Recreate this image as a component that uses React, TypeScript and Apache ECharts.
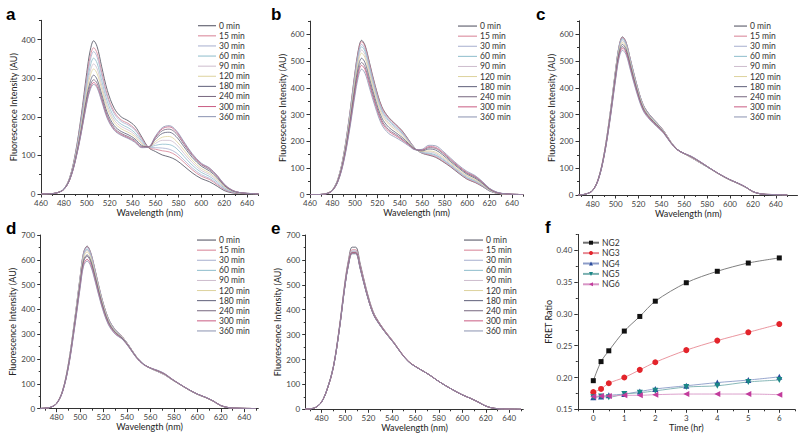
import React, { useEffect, useRef } from 'react';
import * as echarts from 'echarts';

// ---------------- DATA ----------------
const wavelengths = [460, 470, 475, 480, 485, 490, 495, 500, 503, 506, 509, 513, 518, 524, 530, 536, 542, 548, 554, 560, 566, 572, 578, 585, 592, 600, 607, 614, 620, 627, 635, 645, 650];
const timeLabels = ['0 min', '15 min', '30 min', '60 min', '90 min', '120 min', '180 min', '240 min', '300 min', '360 min'];

// panel a (NG2)
const spectraA = [
  [0, 1, 4, 13, 42, 105, 200, 315, 372, 397, 382, 330, 268, 222, 200, 190, 176, 148, 120, 110, 101, 96, 88, 72, 55, 40, 32, 20, 9, 3, 1, 0, 0],
  [0, 1, 4, 13, 41, 102, 193, 302, 356, 379, 365, 316, 256, 213, 192, 183, 169, 144, 120, 116, 112, 109, 100, 82, 63, 46, 38, 24, 12, 4, 1, 0, 0],
  [0, 1, 4, 13, 40, 100, 189, 295, 346, 369, 355, 308, 250, 208, 188, 179, 166, 141, 121, 120, 119, 116, 107, 88, 68, 50, 41, 27, 13, 5, 2, 0, 0],
  [0, 1, 4, 13, 40, 97, 182, 283, 331, 352, 339, 294, 239, 199, 181, 172, 159, 137, 121, 126, 129, 128, 119, 97, 75, 56, 46, 31, 16, 6, 2, 1, 0],
  [0, 1, 4, 12, 39, 94, 176, 273, 318, 337, 325, 282, 229, 192, 175, 166, 154, 133, 121, 131, 139, 139, 129, 105, 82, 61, 51, 35, 18, 7, 2, 1, 0],
  [0, 1, 4, 12, 38, 92, 171, 263, 306, 324, 312, 272, 221, 185, 169, 160, 149, 130, 121, 136, 147, 149, 138, 113, 88, 66, 55, 38, 20, 8, 2, 1, 0],
  [0, 1, 4, 12, 37, 89, 164, 252, 291, 308, 297, 259, 210, 177, 162, 154, 143, 126, 122, 142, 157, 160, 149, 122, 95, 72, 60, 42, 22, 9, 3, 1, 0],
  [0, 1, 4, 12, 37, 87, 160, 244, 281, 296, 287, 250, 203, 171, 157, 149, 139, 123, 122, 146, 164, 168, 157, 128, 100, 76, 64, 45, 24, 9, 3, 1, 0],
  [0, 1, 4, 12, 36, 86, 157, 238, 274, 289, 279, 244, 198, 167, 154, 146, 136, 121, 122, 148, 169, 174, 162, 132, 103, 78, 67, 47, 25, 10, 3, 1, 0],
  [0, 1, 4, 12, 36, 85, 155, 235, 270, 284, 275, 240, 195, 165, 152, 144, 134, 120, 122, 150, 172, 177, 165, 135, 105, 80, 68, 48, 26, 10, 3, 1, 0],
];

// panel b (NG3)
const spectraB = [
  [0, 1, 5, 18, 60, 150, 290, 455, 540, 578, 560, 495, 410, 330, 290, 265, 240, 205, 172, 155, 148, 140, 125, 105, 82, 58, 46, 30, 14, 5, 2, 0, 0],
  [0, 1, 5, 18, 60, 149, 287, 451, 535, 573, 555, 490, 406, 327, 287, 263, 238, 204, 172, 156, 150, 142, 127, 107, 84, 59, 47, 31, 15, 5, 2, 0, 0],
  [0, 1, 5, 18, 59, 146, 282, 443, 526, 563, 545, 482, 399, 320, 282, 258, 234, 202, 171, 157, 153, 146, 131, 110, 86, 62, 50, 33, 15, 6, 2, 0, 0],
  [0, 1, 5, 17, 58, 144, 278, 436, 518, 554, 537, 474, 392, 315, 277, 254, 231, 200, 171, 158, 156, 149, 134, 112, 89, 64, 52, 34, 16, 6, 2, 0, 0],
  [0, 1, 5, 17, 57, 141, 272, 427, 507, 542, 525, 464, 384, 308, 270, 249, 227, 198, 171, 160, 160, 154, 138, 116, 92, 68, 55, 36, 17, 6, 2, 1, 0],
  [0, 1, 5, 17, 56, 138, 266, 418, 496, 530, 514, 453, 375, 300, 264, 243, 222, 195, 170, 162, 164, 159, 143, 120, 95, 71, 57, 38, 18, 7, 2, 1, 0],
  [0, 1, 4, 16, 54, 133, 256, 402, 478, 511, 495, 436, 360, 288, 253, 234, 215, 191, 170, 164, 171, 167, 150, 125, 101, 76, 62, 41, 20, 7, 3, 1, 0],
  [0, 1, 4, 16, 52, 128, 248, 390, 463, 495, 479, 422, 348, 278, 244, 227, 209, 188, 169, 167, 176, 173, 156, 130, 105, 80, 66, 44, 22, 8, 3, 1, 0],
  [0, 1, 4, 15, 51, 126, 242, 381, 453, 484, 469, 412, 340, 271, 238, 222, 205, 186, 169, 168, 180, 177, 160, 134, 108, 83, 69, 46, 23, 8, 3, 1, 0],
  [0, 1, 4, 15, 50, 122, 235, 370, 440, 470, 455, 400, 330, 262, 230, 215, 200, 183, 168, 170, 185, 183, 165, 138, 112, 87, 72, 48, 24, 9, 3, 1, 0],
];

// panel c (NG4)
const spectraC = [
  [0, 1, 5, 18, 62, 155, 298, 468, 555, 590, 572, 505, 420, 338, 298, 270, 240, 200, 170, 154, 140, 125, 110, 92, 74, 56, 43, 28, 12, 4, 1.5, 0.5, 0],
  [0, 1, 5, 18, 62, 155, 297, 467, 554, 588, 571, 504, 419, 337, 297, 270, 240, 200, 170, 154, 140, 125, 110, 92, 74, 56, 43, 28, 12, 4, 1.5, 0.5, 0],
  [0, 1, 5, 18, 62, 154, 296, 465, 551, 585, 568, 501, 417, 336, 296, 269, 239, 200, 170, 154, 140, 125, 110, 92, 74, 56, 43, 28, 12, 4, 1.5, 0.5, 0],
  [0, 1, 5, 18, 61, 153, 294, 462, 548, 582, 564, 499, 415, 334, 295, 268, 238, 199, 170, 154, 141, 126, 110, 92, 74, 56, 43, 28, 12, 4, 1.5, 0.5, 0],
  [0, 1, 5, 18, 61, 152, 292, 457, 542, 576, 559, 494, 411, 332, 293, 266, 237, 199, 169, 154, 141, 126, 111, 92, 74, 56, 43, 28, 12, 4, 1.5, 0.5, 0],
  [0, 1, 5, 18, 60, 151, 289, 452, 537, 570, 553, 489, 407, 329, 291, 264, 236, 198, 169, 154, 142, 127, 111, 92, 74, 56, 43, 28, 12, 4, 2, 1, 0],
  [0, 1, 5, 17, 60, 149, 285, 447, 530, 562, 546, 483, 402, 325, 288, 262, 234, 197, 169, 155, 143, 128, 112, 93, 75, 57, 44, 29, 13, 4, 2, 1, 0],
  [0, 1, 5, 17, 59, 148, 281, 441, 523, 554, 538, 476, 397, 321, 285, 259, 233, 196, 169, 155, 144, 129, 112, 93, 75, 57, 44, 29, 13, 4, 2, 1, 0],
  [0, 1, 5, 17, 59, 147, 279, 436, 517, 548, 533, 471, 393, 319, 283, 257, 232, 196, 168, 155, 144, 129, 113, 93, 75, 57, 44, 29, 13, 4, 2, 1, 0],
  [0, 1, 5, 17, 58, 145, 275, 430, 510, 540, 525, 465, 388, 315, 280, 255, 230, 195, 168, 155, 145, 130, 113, 93, 75, 57, 44, 29, 13, 4, 2, 1, 0],
];

// panel d (NG5)
const spectraD = [
  [0, 2, 6, 22, 72, 180, 345, 530, 630, 655, 630, 555, 455, 365, 318, 290, 252, 210, 180, 163, 150, 137, 118, 98, 78, 58, 45, 29, 12, 4, 1.5, 0.5, 0],
  [0, 2, 6, 22, 72, 179, 344, 528, 627, 652, 627, 553, 453, 364, 317, 290, 252, 210, 180, 163, 150, 137, 118, 98, 78, 58, 45, 29, 12, 4, 1.5, 0.5, 0],
  [0, 2, 6, 22, 72, 179, 343, 526, 626, 650, 626, 551, 452, 363, 317, 289, 251, 210, 180, 163, 150, 137, 118, 98, 78, 58, 45, 29, 12, 4, 1.5, 0.5, 0],
  [0, 2, 6, 22, 71, 177, 339, 521, 619, 643, 619, 546, 448, 360, 314, 288, 251, 209, 180, 163, 151, 138, 119, 98, 78, 58, 45, 29, 12, 4, 1.5, 0.5, 0],
  [0, 2, 6, 22, 71, 176, 337, 518, 615, 639, 615, 543, 446, 358, 313, 287, 250, 209, 179, 163, 151, 138, 119, 98, 78, 58, 45, 29, 12, 4, 1.5, 0.5, 0],
  [0, 2, 6, 22, 70, 174, 334, 513, 609, 632, 609, 538, 442, 356, 311, 286, 249, 208, 179, 163, 152, 139, 119, 98, 78, 58, 45, 29, 12, 4, 2, 1, 0],
  [0, 2, 6, 21, 69, 171, 328, 504, 598, 620, 598, 529, 435, 351, 308, 284, 248, 207, 179, 164, 153, 140, 120, 99, 79, 59, 46, 30, 13, 4, 2, 1, 0],
  [0, 2, 6, 21, 69, 170, 325, 499, 593, 614, 593, 524, 431, 348, 306, 283, 247, 207, 179, 164, 153, 140, 120, 99, 79, 59, 46, 30, 13, 4, 2, 1, 0],
  [0, 2, 6, 21, 68, 167, 319, 490, 582, 602, 582, 515, 424, 343, 302, 281, 246, 206, 178, 164, 154, 141, 121, 99, 79, 59, 46, 30, 13, 4, 2, 1, 0],
  [0, 2, 6, 21, 67, 165, 315, 485, 575, 595, 575, 510, 420, 340, 300, 280, 245, 205, 178, 164, 155, 142, 121, 99, 79, 59, 46, 30, 13, 4, 2, 1, 0],
];

// panel e (NG6)
const spectraE = [
  [0, 2, 8, 30, 86, 173, 326, 516, 603, 651, 651, 583, 485, 392, 342, 303, 267, 226, 193, 172, 155, 138, 118, 97, 78, 58, 44, 28, 13, 4, 1.5, 0.5, 0],
  [0, 2, 8, 30, 85, 171, 323, 510, 596, 641, 641, 576, 480, 389, 340, 302, 266, 226, 193, 172, 155, 138, 118, 97, 78, 58, 44, 28, 13, 4, 1.5, 0.5, 0],
  [0, 2, 8, 30, 85, 170, 320, 505, 590, 636, 636, 571, 476, 386, 338, 300, 265, 225, 192, 172, 155, 138, 118, 97, 78, 58, 44, 28, 13, 4, 1.5, 0.5, 0],
  [0, 2, 8, 30, 85, 170, 319, 503, 588, 632, 632, 568, 474, 385, 337, 299, 264, 225, 192, 172, 155, 138, 118, 97, 78, 58, 44, 28, 13, 4, 1.5, 0.5, 0],
  [0, 2, 8, 30, 85, 170, 320, 504, 589, 634, 634, 570, 475, 386, 338, 300, 265, 225, 192, 172, 155, 138, 118, 97, 78, 58, 44, 28, 13, 4, 1.5, 0.5, 0],
  [0, 2, 8, 29, 84, 169, 318, 501, 585, 628, 628, 565, 472, 384, 336, 299, 264, 224, 192, 172, 155, 138, 118, 97, 78, 58, 44, 28, 13, 4, 1.5, 0.5, 0],
  [0, 2, 8, 30, 84, 169, 318, 502, 586, 630, 630, 566, 473, 384, 337, 299, 264, 225, 192, 172, 155, 138, 118, 97, 78, 58, 44, 28, 13, 4, 1.5, 0.5, 0],
  [0, 2, 8, 29, 84, 168, 317, 500, 583, 626, 626, 563, 471, 383, 336, 298, 263, 224, 191, 171, 155, 138, 118, 97, 78, 58, 44, 28, 13, 4, 1.5, 0.5, 0],
  [0, 2, 8, 30, 84, 169, 318, 502, 586, 629, 629, 566, 473, 384, 337, 299, 264, 225, 192, 172, 155, 138, 118, 97, 78, 58, 44, 28, 13, 4, 1.5, 0.5, 0],
  [0, 2, 8, 29, 84, 168, 316, 498, 581, 624, 624, 561, 470, 382, 335, 298, 263, 224, 191, 171, 155, 138, 118, 97, 78, 58, 44, 28, 13, 4, 1.5, 0.5, 0],
];

// panel f
const hours = [0, 0.25, 0.5, 1, 1.5, 2, 3, 4, 5, 6];
const ngNames = ['NG2', 'NG3', 'NG4', 'NG5', 'NG6'];
const ratioNG2 = [0.195, 0.225, 0.242, 0.273, 0.296, 0.32, 0.349, 0.367, 0.38, 0.388];
const ratioNG3 = [0.177, 0.182, 0.191, 0.2, 0.212, 0.224, 0.243, 0.258, 0.271, 0.284];
const ratioNG4 = [0.169, 0.17, 0.172, 0.174, 0.178, 0.182, 0.187, 0.192, 0.196, 0.201];
const ratioNG5 = [0.169, 0.17, 0.169, 0.174, 0.176, 0.179, 0.185, 0.187, 0.193, 0.196];
const ratioNG6 = [0.17, 0.171, 0.171, 0.172, 0.172, 0.173, 0.174, 0.174, 0.174, 0.173];

// tick values
const wlMajorAB = [460, 480, 500, 520, 540, 560, 580, 600, 620, 640];
const wlMinorAB = [470, 490, 510, 530, 550, 570, 590, 610, 630, 650];
const wlMajorCDE = [480, 500, 520, 540, 560, 580, 600, 620, 640];
const wlMinorCDE = [470, 490, 510, 530, 550, 570, 590, 610, 630, 650];
const intMajorA = [0, 100, 200, 300, 400];
const intMinorA = [50, 150, 250, 350, 450];
const intMajorBC = [0, 100, 200, 300, 400, 500, 600];
const intMinorBC = [50, 150, 250, 350, 450, 550, 650];
const intMajorDE = [0, 100, 200, 300, 400, 500, 600, 700];
const intMinorDE = [50, 150, 250, 350, 450, 550, 650];
const timeMajor = [0, 1, 2, 3, 4, 5, 6];
const timeMinor = [-0.5, 0.5, 1.5, 2.5, 3.5, 4.5, 5.5, 6.5];
const ratioMajor = [0.15, 0.2, 0.25, 0.3, 0.35, 0.4];
const ratioMinor = [0.175, 0.225, 0.275, 0.325, 0.375, 0.425];

// ---------------- STYLE / LAYOUT ----------------
const FONT = 'Lato, "Liberation Sans", sans-serif';
const AXIS_COLOR = '#333';
const LABEL_COLOR = '#444';
const curveColors = ['#4a4a5a', '#d77f93', '#a6aece', '#8dbccb', '#cdbccd', '#ddd29c', '#5e5e78', '#76667e', '#c95b82', '#8a92b0'];

const ngMarkerColors = ['#111111', '#e3242b', '#2a4c9c', '#1a8686', '#c23c9c'];
const ngLineColors = ['#707070', '#e88a94', '#8c9cc8', '#7ab0b0', '#d896c6'];
const ngSymbols = ['rect', 'circle', 'triangle', 'triangle', 'triangle'];
const ngRotate = [0, 0, 0, 180, 90];
const ngData = [ratioNG2, ratioNG3, ratioNG4, ratioNG5, ratioNG6];

type Panel = {
  letter: string;
  letterX: number;
  letterY: number;
  grid: { left: number; top: number; width: number; height: number };
  xMin: number; xMax: number; xMajor: number[]; xMinor: number[];
  yMin: number; yMax: number; yMajor: number[]; yMinor: number[];
  xName: string; yName: string; yNameGap: number;
  legendLeft: number; legendTop: number; legendW: number;
};

const panels: Panel[] = [
  { letter: 'a', letterX: 6, letterY: 14, grid: { left: 41, top: 20.3, width: 217.5, height: 173.7 },
    xMin: 460, xMax: 650, xMajor: wlMajorAB, xMinor: wlMinorAB, yMin: 0, yMax: 450, yMajor: intMajorA, yMinor: intMinorA,
    xName: 'Wavelength (nm)', yName: 'Fluorescence Intensity (AU)', yNameGap: 23, legendLeft: 198, legendTop: 20.7, legendW: 18 },
  { letter: 'b', letterX: 271, letterY: 14, grid: { left: 310, top: 21.1, width: 213.2, height: 173.6 },
    xMin: 460, xMax: 650, xMajor: wlMajorAB, xMinor: wlMinorAB, yMin: 0, yMax: 650, yMajor: intMajorBC, yMinor: intMinorBC,
    xName: 'Wavelength (nm)', yName: 'Fluorescence Intensity (AU)', yNameGap: 23, legendLeft: 458, legendTop: 21, legendW: 19 },
  { letter: 'c', letterX: 536, letterY: 14, grid: { left: 579, top: 20.8, width: 218.5, height: 174.2 },
    xMin: 468, xMax: 659, xMajor: wlMajorCDE, xMinor: wlMinorCDE, yMin: 0, yMax: 650, yMajor: intMajorBC, yMinor: intMinorBC,
    xName: 'Wavelength (nm)', yName: 'Fluorescence Intensity (AU)', yNameGap: 23, legendLeft: 734, legendTop: 21, legendW: 13 },
  { letter: 'd', letterX: 6, letterY: 228, grid: { left: 40.7, top: 235, width: 217.6, height: 173.7 },
    xMin: 466.4, xMax: 652, xMajor: wlMajorCDE, xMinor: wlMinorCDE, yMin: 0, yMax: 700, yMajor: intMajorDE, yMinor: intMinorDE,
    xName: 'Wavelength (nm)', yName: 'Fluorescence Intensity (AU)', yNameGap: 23, legendLeft: 197, legendTop: 235, legendW: 19 },
  { letter: 'e', letterX: 271, letterY: 228, grid: { left: 305.7, top: 235, width: 217.6, height: 174.3 },
    xMin: 466.4, xMax: 652, xMajor: wlMajorCDE, xMinor: wlMinorCDE, yMin: 0, yMax: 700, yMajor: intMajorDE, yMinor: intMinorDE,
    xName: 'Wavelength (nm)', yName: 'Fluorescence Intensity (AU)', yNameGap: 23, legendLeft: 464, legendTop: 235, legendW: 19 },
  { letter: 'f', letterX: 545, letterY: 227, grid: { left: 577.8, top: 234.4, width: 217, height: 174.9 },
    xMin: -0.5, xMax: 6.5, xMajor: timeMajor, xMinor: timeMinor, yMin: 0.15, yMax: 0.425, yMajor: ratioMajor, yMinor: ratioMinor,
    xName: 'Time (hr)', yName: 'FRET Ratio', yNameGap: 25, legendLeft: 582, legendTop: 237.5, legendW: 16 },
];

const spectra = [spectraA, spectraB, spectraC, spectraD, spectraE];

function buildOption() {
  const grid: any[] = [];
  const xAxis: any[] = [];
  const yAxis: any[] = [];
  const legend: any[] = [];
  const series: any[] = [];
  const graphic: any[] = [];

  panels.forEach((p, i) => {
    grid.push({ ...p.grid, containLabel: false });
    const isF = i === 5;
    const labelFmt = isF ? (v: number) => v.toFixed(2) : (v: number) => String(v);
    xAxis.push({
      type: 'value', gridIndex: i, min: p.xMin, max: p.xMax, position: 'bottom',
      name: p.xName, nameLocation: 'middle', nameGap: 13.5,
      nameTextStyle: { fontFamily: FONT, fontSize: 9, color: '#222' },
      axisLine: { show: true, onZero: false, lineStyle: { color: AXIS_COLOR, width: 1 } },
      axisTick: { show: true, length: 3.5, customValues: p.xMajor, lineStyle: { color: AXIS_COLOR, width: 1 } },
      axisLabel: { show: true, customValues: p.xMajor, margin: 4.5, fontSize: 8, fontFamily: FONT, color: LABEL_COLOR, formatter: (v: number) => String(v) },
      splitLine: { show: false },
    });
    xAxis.push({
      type: 'value', gridIndex: i, min: p.xMin, max: p.xMax, position: 'bottom',
      axisLine: { show: false, onZero: false },
      axisTick: { show: true, length: 2, customValues: p.xMinor, lineStyle: { color: AXIS_COLOR, width: 1 } },
      axisLabel: { show: false },
      splitLine: { show: false },
    });
    yAxis.push({
      type: 'value', gridIndex: i, min: p.yMin, max: p.yMax, position: 'left',
      name: p.yName, nameLocation: 'middle', nameGap: p.yNameGap,
      nameTextStyle: { fontFamily: FONT, fontSize: 9, color: '#222' },
      axisLine: { show: true, onZero: false, lineStyle: { color: AXIS_COLOR, width: 1 } },
      axisTick: { show: true, length: 3.5, customValues: p.yMajor, lineStyle: { color: AXIS_COLOR, width: 1 } },
      axisLabel: { show: true, customValues: p.yMajor, margin: 5.5, fontSize: 8, fontFamily: FONT, color: LABEL_COLOR, formatter: labelFmt },
      splitLine: { show: false },
    });
    yAxis.push({
      type: 'value', gridIndex: i, min: p.yMin, max: p.yMax, position: 'left',
      axisLine: { show: false, onZero: false },
      axisTick: { show: true, length: 2, customValues: p.yMinor, lineStyle: { color: AXIS_COLOR, width: 1 } },
      axisLabel: { show: false },
      splitLine: { show: false },
    });

    if (isF) {
      legend.push({
        orient: 'vertical', left: p.legendLeft, top: p.legendTop, padding: 0,
        itemWidth: p.legendW, itemHeight: 5, itemGap: 0,
        selectedMode: false,
        data: ngNames,
        textStyle: { fontFamily: FONT, fontSize: 8.5, lineHeight: 10.4, color: '#333', padding: [0, 0, 0, -2] },
      });
    } else {
      legend.push({
        orient: 'vertical', left: p.legendLeft, top: p.legendTop, padding: 0,
        itemWidth: p.legendW, itemHeight: 1, itemGap: 0, icon: 'rect',
        selectedMode: false,
        data: timeLabels,
        textStyle: { fontFamily: FONT, fontSize: 8.5, lineHeight: 10.1, color: '#333', padding: [0, 0, 0, -2] },
      });
    }

    graphic.push({
      type: 'text', x: p.letterX, y: p.letterY,
      style: { text: p.letter, fontFamily: '"Liberation Sans", Arial, sans-serif', fontWeight: 'bold', fontSize: 17, fill: '#000', verticalAlign: 'middle', align: 'left' },
    });

    if (!isF) {
      spectra[i].forEach((curve, k) => {
        series.push({
          type: 'line', name: timeLabels[k], xAxisIndex: 2 * i, yAxisIndex: 2 * i,
          data: wavelengths.map((w, j) => [w, curve[j]]),
          symbol: 'none', smooth: 0.35, clip: true,
          lineStyle: { width: 0.8, color: curveColors[k] },
          itemStyle: { color: curveColors[k] },
        });
      });
    } else {
      ngData.forEach((vals, k) => {
        series.push({
          type: 'line', name: ngNames[k], xAxisIndex: 2 * i, yAxisIndex: 2 * i,
          data: hours.map((h, j) => [h, vals[j]]),
          symbol: ngSymbols[k], symbolSize: k === 0 ? 5 : 6, symbolRotate: ngRotate[k],
          smooth: 0.3,
          lineStyle: { width: 0.9, color: ngLineColors[k] },
          itemStyle: { color: ngMarkerColors[k] },
        });
      });
    }
  });

  return { animation: false, backgroundColor: '#fff', grid, xAxis, yAxis, legend, series, graphic };
}

export default function App() {
  const ref = useRef<HTMLDivElement>(null);
  useEffect(() => {
    if (!ref.current) return;
    const chart = echarts.init(ref.current, undefined, { renderer: 'svg' });
    chart.setOption(buildOption() as any);
    return () => chart.dispose();
  }, []);
  return <div ref={ref} style={{ position: 'absolute', left: 0, top: 0, width: 800, height: 441 }} />;
}
